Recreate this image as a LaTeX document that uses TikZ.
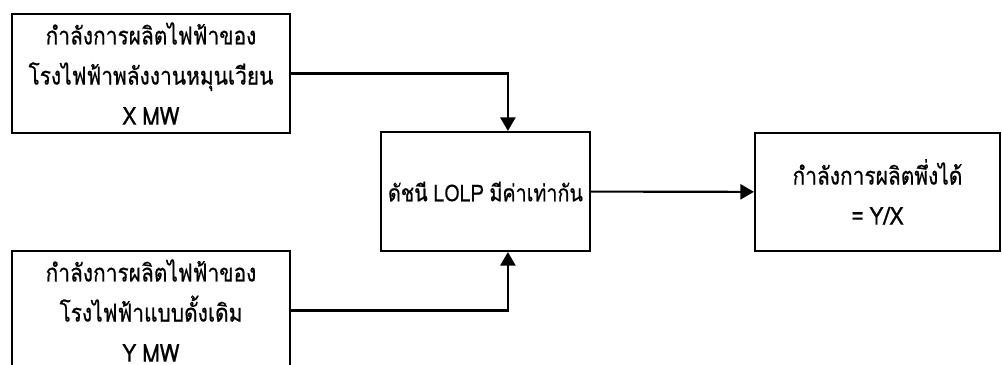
\documentclass[tikz,border=0pt]{standalone}
\usepackage{fontspec}
\newfontfamily\thaifont[Script=Thai,FakeStretch=0.85,FakeBold=0.6,WordSpace=0.85]{Loma}
\usetikzlibrary{arrows.meta}

\begin{document}
\begin{tikzpicture}[x=0.025cm,y=-0.025cm,
  box/.style={draw,line width=1.5pt,align=center,inner sep=0pt,
    font=\thaifont\fontsize{17.5}{28.5}\selectfont},
  conn/.style={line width=1.5pt,-{Triangle[width=3.8mm,length=3.4mm]}}]
\useasboundingbox (0,0) rectangle (1002,365);
% input boxes
\node[box,minimum width=6.95cm,minimum height=2.975cm] (ren) at (151,73.5)
  {กำลังการผลิตไฟฟ้าของ\\โรงไฟฟ้าพลังงานหมุนเวียน\\X MW};
\node[box,minimum width=6.95cm,minimum height=2.975cm] (conv) at (151,310.5)
  {กำลังการผลิตไฟฟ้าของ\\โรงไฟฟ้าแบบดั้งเดิม\\Y MW};
% comparison and result
\node[box,minimum width=5.225cm,minimum height=2.975cm,
  font=\thaifont\fontsize{16.5}{28.5}\selectfont] (lolp) at (485.5,191.5)
  {ดัชนี LOLP มีค่าเท่ากัน};
\node[box,minimum width=6.125cm,minimum height=2.95cm] (res) at (877.5,192)
  {กำลังการผลิตพึ่งได้\\= Y/X};
% connectors
\draw[conn] (ren.east) -| ([xshift=5.6mm]lolp.north);
\draw[conn] (conv.east) -| ([xshift=5.6mm]lolp.south);
\draw[conn] (lolp) -- (res);
\end{tikzpicture}
\end{document}
